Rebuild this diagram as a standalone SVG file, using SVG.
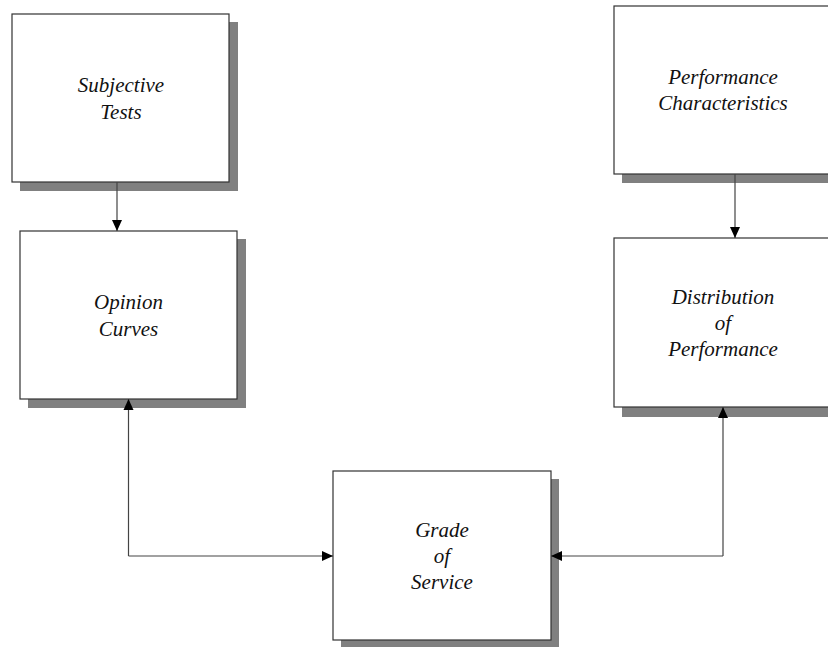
<svg xmlns="http://www.w3.org/2000/svg" width="828" height="647" viewBox="0 0 828 647">
<style>
.shadow{fill:#808080;stroke:none}
.box{fill:#fff;stroke:#333;stroke-width:1.2}
.lbl{font-family:"Liberation Serif","Times New Roman",serif;font-style:italic;font-size:21px;fill:#111;text-anchor:middle}
.conn{fill:none;stroke:#444;stroke-width:1.2}
</style>
<defs>
<marker id="ah" markerUnits="userSpaceOnUse" markerWidth="12" markerHeight="12" viewBox="0 0 12 12" refX="11" refY="6" orient="auto">
<path d="M0,1 L11,6 L0,11 Z" fill="#000"/>
</marker>
</defs>
<rect width="828" height="647" fill="#fff"/>
<g id="subjective-tests">
<rect class="shadow" x="20" y="22" width="218" height="169"/>
<rect class="box" x="12" y="14" width="217" height="168"/>
<text class="lbl" x="121" y="92">Subjective</text>
<text class="lbl" x="121" y="119">Tests</text>
</g>
<g id="opinion-curves">
<rect class="shadow" x="28" y="239" width="218" height="169"/>
<rect class="box" x="20" y="231" width="217" height="168"/>
<text class="lbl" x="128.5" y="309">Opinion</text>
<text class="lbl" x="128.5" y="336">Curves</text>
</g>
<g id="performance-characteristics">
<rect class="shadow" x="622" y="14" width="218" height="169"/>
<rect class="box" x="614" y="6" width="218" height="168"/>
<text class="lbl" x="723" y="84">Performance</text>
<text class="lbl" x="723" y="110">Characteristics</text>
</g>
<g id="distribution-of-performance">
<rect class="shadow" x="622" y="247" width="218" height="170"/>
<rect class="box" x="614" y="238" width="218" height="169"/>
<text class="lbl" x="723" y="304">Distribution</text>
<text class="lbl" x="723" y="330">of</text>
<text class="lbl" x="723" y="356">Performance</text>
</g>
<g id="grade-of-service">
<rect class="shadow" x="341" y="479" width="218" height="168"/>
<rect class="box" x="333" y="471" width="218" height="169"/>
<text class="lbl" x="442" y="537">Grade</text>
<text class="lbl" x="442" y="563">of</text>
<text class="lbl" x="442" y="589">Service</text>
</g>
<g id="connectors">
<path class="conn" d="M117,182 V231" marker-end="url(#ah)"/>
<path class="conn" d="M735,174 V238" marker-end="url(#ah)"/>
<path class="conn" d="M128.5,556 V399" marker-end="url(#ah)"/>
<path class="conn" d="M128.5,556 H333" marker-end="url(#ah)"/>
<path class="conn" d="M723,556 V407" marker-end="url(#ah)"/>
<path class="conn" d="M723,556 H551" marker-end="url(#ah)"/>
</g>
</svg>
